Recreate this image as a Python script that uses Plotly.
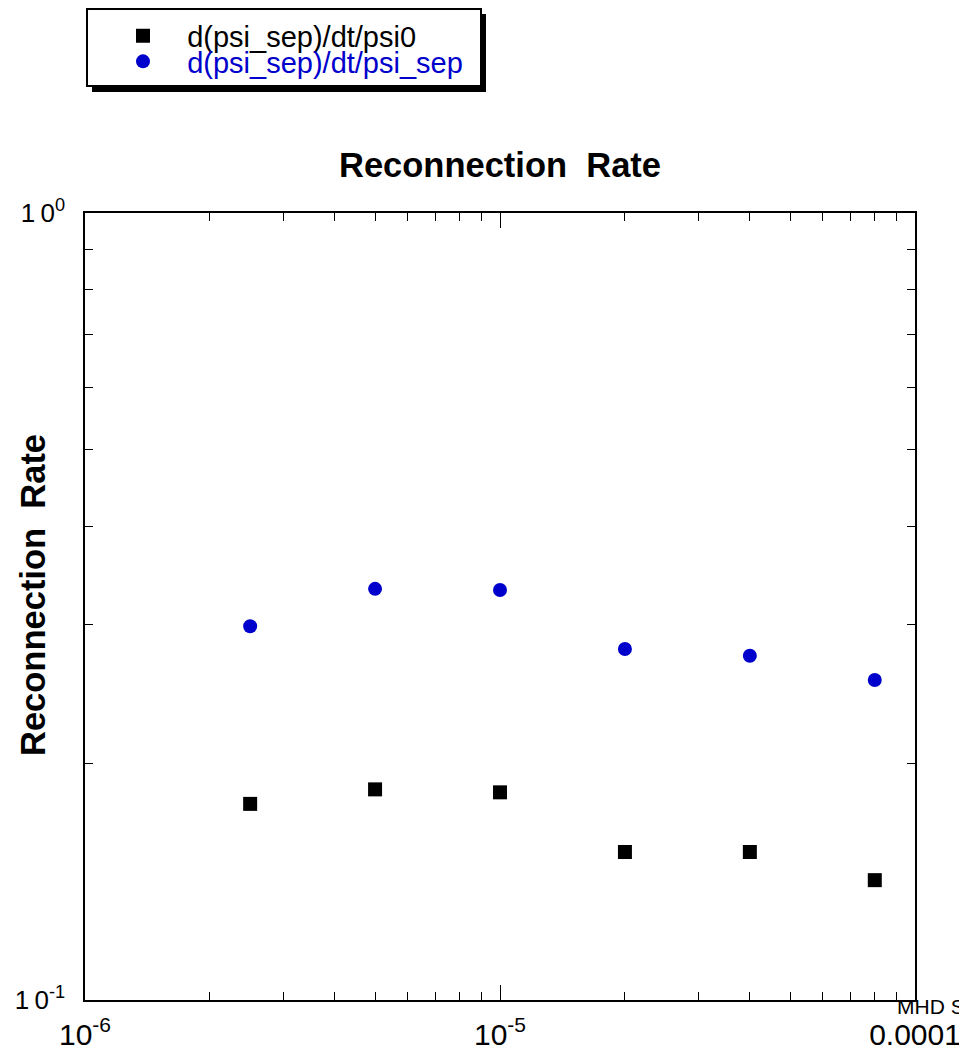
import plotly.graph_objects as go

# ---- data ----
mhd_s = [2.5e-6, 5e-6, 1e-5, 2e-5, 4e-5, 8e-5]
rate_psi0 = [0.1775, 0.1852, 0.1836, 0.1542, 0.1542, 0.1420]
rate_psisep = [0.2985, 0.3330, 0.3318, 0.2792, 0.2738, 0.2550]

name_psi0 = "d(psi_sep)/dt/psi0"
name_psisep = "d(psi_sep)/dt/psi_sep"

x_major = [1e-6, 1e-5, 1e-4]
x_major_text = ["10<sup>-6</sup>", "10<sup>-5</sup>", "0.0001"]
x_minor = [m * d for d in (1e-6, 1e-5) for m in range(2, 10)]
y_major = [0.1, 1.0]
y_major_text = ["1\u20090<sup>-1</sup>", "1\u20090<sup>0</sup>"]
y_minor = [0.2, 0.3, 0.4, 0.5, 0.6, 0.7, 0.8, 0.9]

title_text = "Reconnection\u00a0 Rate"
xaxis_note = "MHD S"

BLUE = "#0000cc"
FONT = "Liberation Sans, Arial, Helvetica, sans-serif"

W, H = 959, 1050
L, R, T, B = 85, 915, 213, 1000


def px(xp):
    return (xp - L) / (R - L)


def py(yp):
    return (B - yp) / (B - T)


PAD = "\u00a0" * 3

fig = go.Figure()
fig.add_trace(go.Scatter(
    x=mhd_s, y=rate_psi0, mode="markers", name=PAD + name_psi0,
    marker=dict(symbol="square", size=14, color="black"), legend="legend"))
fig.add_trace(go.Scatter(
    x=mhd_s, y=rate_psisep, mode="markers", name=PAD + name_psisep,
    marker=dict(symbol="circle", size=14, color=BLUE), legend="legend2"))

axis_common = dict(
    showline=True, linecolor="black", linewidth=1.5, mirror="ticks",
    ticks="inside", ticklen=15, tickwidth=1.2, tickcolor="black",
    showgrid=False, zeroline=False, automargin=False,
    ticklabeloverflow="allow",
)

fig.update_xaxes(
    type="log", range=[-6, -4], tickmode="array", tickvals=x_major,
    ticktext=x_major_text, tickfont=dict(family=FONT, size=30, color="black"),
    ticklabelstandoff=7,
    minor=dict(tickmode="array", tickvals=x_minor, ticks="inside", ticklen=8,
               tickwidth=1, tickcolor="black", showgrid=False),
    **axis_common)
fig.update_yaxes(
    type="log", range=[-1, 0], tickmode="array", tickvals=y_major,
    ticktext=y_major_text, tickfont=dict(family=FONT, size=26, color="black"),
    ticklabelstandoff=13,
    minor=dict(tickmode="array", tickvals=y_minor, ticks="inside", ticklen=8,
               tickwidth=1, tickcolor="black", showgrid=False),
    **axis_common)

legend_common = dict(
    bgcolor="rgba(0,0,0,0)", borderwidth=0, xanchor="left", yanchor="middle",
    itemsizing="trace",
)
fig.update_layout(
    width=W, height=H,
    margin=dict(l=L, r=W - R, t=T, b=H - B, pad=0, autoexpand=False),
    paper_bgcolor="white", plot_bgcolor="white",
    font=dict(family=FONT, color="black"),
    title=dict(text="<b>" + title_text + "</b>", x=0.5, xref="paper",
               y=1 - 165 / H, yref="container", xanchor="center", yanchor="middle",
               font=dict(family=FONT, size=34.5, color="black")),
    legend=dict(x=px(123), y=py(36),
                font=dict(family=FONT, size=29, color="black"), **legend_common),
    legend2=dict(x=px(123), y=py(61.5),
                 font=dict(family=FONT, size=29, color=BLUE), **legend_common),
    showlegend=True,
)

# legend frame with drop shadow
fig.add_shape(type="rect", xref="paper", yref="paper",
              x0=px(92), x1=px(486), y0=py(14), y1=py(92),
              fillcolor="black", line=dict(width=0), layer="above")
fig.add_shape(type="rect", xref="paper", yref="paper",
              x0=px(87), x1=px(481), y0=py(9), y1=py(86),
              fillcolor="white", line=dict(color="black", width=2), layer="above")

# y axis title
fig.add_annotation(text="<b>" + title_text + "</b>", textangle=-90,
                   xref="paper", yref="paper", x=px(33), y=py(595),
                   xanchor="center", yanchor="middle", showarrow=False,
                   font=dict(family=FONT, size=34.5, color="black"))
# clipped x axis note
fig.add_annotation(text=xaxis_note, xref="paper", yref="paper",
                   x=px(895), y=py(1006), xanchor="left", yanchor="middle",
                   showarrow=False, font=dict(family=FONT, size=21, color="black"))

fig.write_html("out.html")
